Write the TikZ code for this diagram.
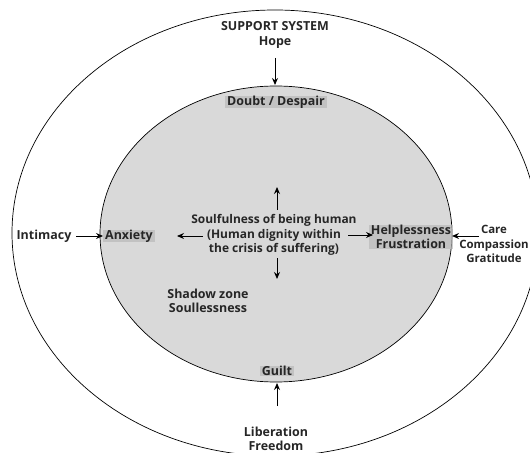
\documentclass[tikz,border=0pt]{standalone}
\usepackage{fontspec}
\setmainfont{Open Sans}
\usetikzlibrary{arrows.meta}
\begin{document}
\begin{tikzpicture}[x=1bp,y=-1bp,
  lbl/.style={font=\fontsize{12.5}{14.5}\selectfont\bfseries, align=center, inner sep=1pt, text=black!85},
  patch/.style={fill=gray!55, fill opacity=0.7, text opacity=1, inner xsep=2pt, inner ysep=0pt},
  arr/.style={-{Stealth[length=7pt,width=6pt]}, line width=1pt}]
\useasboundingbox (0,0) rectangle (530,453);
\begin{scope}
\clip (0,0) rectangle (530,453);
\draw[line width=0.7pt] (275,233) ellipse [x radius=263, y radius=223];
\end{scope}
\draw[line width=0.7pt, fill=gray!30] (276,234) ellipse [x radius=176, y radius=148];
% nodes
\node[lbl] (sup) at (275,35) {SUPPORT SYSTEM\\Hope};
\node[lbl, patch] (doubt) at (276,102) {Doubt / Despair};
\node[lbl, font=\fontsize{12}{14.5}\selectfont\bfseries] (soul) at (274,235) {Soulfulness of being human\\(Human dignity within\\the crisis of suffering)};
\node[lbl] (intim) at (44,236) {Intimacy};
\node[lbl, patch] (anx) at (129,236) {Anxiety};
\node[lbl, patch] (help) at (411,237) {Helplessness\\Frustration};
\node[lbl, font=\fontsize{11.5}{14.5}\selectfont\bfseries] (care) at (494,244) {Care\\Compassion\\Gratitude};
\node[lbl] (shadow) at (208,301) {Shadow zone\\Soullessness};
\node[lbl, patch] (guilt) at (277,371) {Guilt};
\node[lbl] (lib) at (276,439) {Liberation\\Freedom};
% arrow end points
\coordinate (a1) at (275,58);  \coordinate (b1) at (275,85);
\coordinate (a2) at (277,210); \coordinate (b2) at (277,187);
\coordinate (a3) at (277,258); \coordinate (b3) at (277,279);
\coordinate (a4) at (203,236); \coordinate (b4) at (177,236);
\coordinate (a5) at (76,236);  \coordinate (b5) at (103,236);
\coordinate (a6) at (348,235); \coordinate (b6) at (373,235);
\coordinate (a7) at (479,236); \coordinate (b7) at (452,236);
\coordinate (a8) at (277,406); \coordinate (b8) at (277,383);
\foreach \i in {1,...,8} {\draw[arr] (a\i) -- (b\i);}
\end{tikzpicture}
\end{document}
